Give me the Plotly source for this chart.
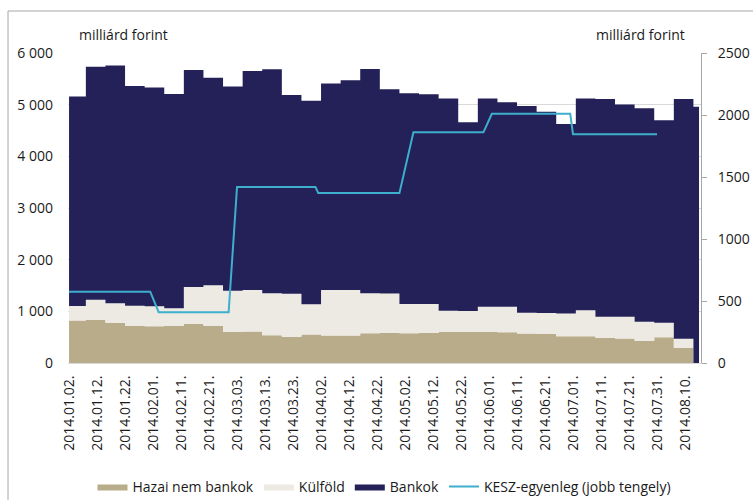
import plotly.graph_objects as go

# Weekly observation dates (value held until next date); last entry closes the final week
week_dates = ['2014-01-02', '2014-01-08', '2014-01-15', '2014-01-22', '2014-01-29',
              '2014-02-05', '2014-02-12', '2014-02-19', '2014-02-26',
              '2014-03-05', '2014-03-12', '2014-03-19', '2014-03-26',
              '2014-04-02', '2014-04-09', '2014-04-16', '2014-04-23', '2014-04-30',
              '2014-05-07', '2014-05-14', '2014-05-21', '2014-05-28',
              '2014-06-04', '2014-06-11', '2014-06-18', '2014-06-25',
              '2014-07-02', '2014-07-09', '2014-07-16', '2014-07-23', '2014-07-30',
              '2014-08-06', '2014-08-13', '2014-08-15']

hazai = [825, 835, 780, 720, 710, 720, 755, 720, 600, 610, 535, 510, 550, 530, 530, 575,
         580, 575, 580, 600, 600, 600, 595, 570, 560, 520, 520, 490, 475, 430, 500, 295, 0, 0]
kulfold = [280, 390, 375, 390, 390, 342, 715, 785, 800, 802, 815, 830, 585, 885, 885, 775,
           765, 565, 560, 410, 405, 490, 495, 403, 410, 440, 500, 407, 422, 370, 280, 175, 0, 0]
bankok = [4055, 4510, 4605, 4250, 4230, 4143, 4200, 4015, 3950, 4238, 4335, 3845, 3940, 3995,
          4060, 4340, 3955, 4080, 4060, 4110, 3655, 4030, 3955, 4002, 3895, 3665, 4100, 4213,
          4108, 4130, 3920, 4640, 4960, 4960]

# KESZ balance (right axis): first and last business-day observations of each month
kesz_dates = ['2014-01-02', '2014-01-31', '2014-02-03', '2014-02-28', '2014-03-03', '2014-03-31',
              '2014-04-01', '2014-04-30', '2014-05-05', '2014-05-30', '2014-06-02', '2014-06-30',
              '2014-07-01', '2014-07-31']
kesz = [575, 575, 410, 410, 1420, 1420, 1370, 1370, 1860, 1860, 2010, 2010, 1845, 1845]

left_ticks = [0, 1000, 2000, 3000, 4000, 5000, 6000]
left_ticktext = ['0', '1 000', '2 000', '3 000', '4 000', '5 000', '6 000']
right_ticks = [0, 500, 1000, 1500, 2000, 2500]

FONT = 'Open Sans'
TXT = '#1a1a1a'

fig = go.Figure()
fig.add_trace(go.Scatter(x=week_dates, y=hazai, name='Hazai nem bankok', stackgroup='s',
                         line=dict(width=0, shape='hv'), fillcolor='#B9AC8A', mode='lines'))
fig.add_trace(go.Scatter(x=week_dates, y=kulfold, name='Külföld', stackgroup='s',
                         line=dict(width=0, shape='hv'), fillcolor='#EDEAE3', mode='lines'))
fig.add_trace(go.Scatter(x=week_dates, y=bankok, name='Bankok', stackgroup='s',
                         line=dict(width=0, shape='hv'), fillcolor='#242158', mode='lines'))
fig.add_trace(go.Scatter(x=kesz_dates, y=kesz, name='KESZ-egyenleg (jobb tengely)', yaxis='y2',
                         mode='lines', line=dict(color='#3EAFCD', width=2)))

fig.update_layout(
    width=753, height=500,
    margin=dict(l=68, r=52, t=53, b=137, autoexpand=False),
    paper_bgcolor='white', plot_bgcolor='white',
    font=dict(family=FONT, size=14, color=TXT),
    showlegend=True,
    legend=dict(orientation='h', x=0.5, xanchor='center', y=(363 - 487) / 310, yanchor='middle',
                traceorder='normal', font=dict(size=14, family=FONT, color=TXT),
                itemwidth=30),
    xaxis=dict(type='date', range=['2014-01-01 15:00', '2014-08-15 17:00'],
               tick0='2014-01-02', dtick=10 * 86400000, tickformat='%Y.%m.%d.',
               tickangle=-90, showgrid=False, showline=True, linecolor='#D9D9D9',
               ticks='', ticklabelstandoff=6, tickfont=dict(size=14), automargin=False),
    yaxis=dict(range=[0, 6000], tickvals=left_ticks, ticktext=left_ticktext,
               showgrid=True, gridcolor='#D9D9D9', gridwidth=1, zeroline=False,
               showline=False, ticks='', ticklabelstandoff=14, tickfont=dict(size=14),
               automargin=False),
    yaxis2=dict(range=[0, 2500], tickvals=right_ticks, overlaying='y', side='right',
                showgrid=False, zeroline=False, showline=True, linecolor='#A6A6A6',
                ticks='outside', ticklen=5, tickcolor='#A6A6A6', ticklabelstandoff=8,
                tickfont=dict(size=14), automargin=False),
    annotations=[
        dict(text='milliárd forint', xref='paper', yref='paper', x=(77 - 68) / 633,
             y=(363 - 35) / 310, xanchor='left', yanchor='middle', showarrow=False,
             font=dict(size=14, family=FONT, color=TXT)),
        dict(text='milliárd forint', xref='paper', yref='paper', x=(687 - 68) / 633,
             y=(363 - 35) / 310, xanchor='right', yanchor='middle', showarrow=False,
             font=dict(size=14, family=FONT, color=TXT)),
    ],
    shapes=[
        dict(type='rect', xref='paper', yref='paper', x0=(8 - 68) / 633, x1=(770 - 68) / 633,
             y0=(363 - 520) / 310, y1=(363 - 11) / 310, line=dict(color='#A6A6A6', width=1),
             fillcolor='rgba(0,0,0,0)', layer='below'),
    ],
)

fig.write_html('out.html')
